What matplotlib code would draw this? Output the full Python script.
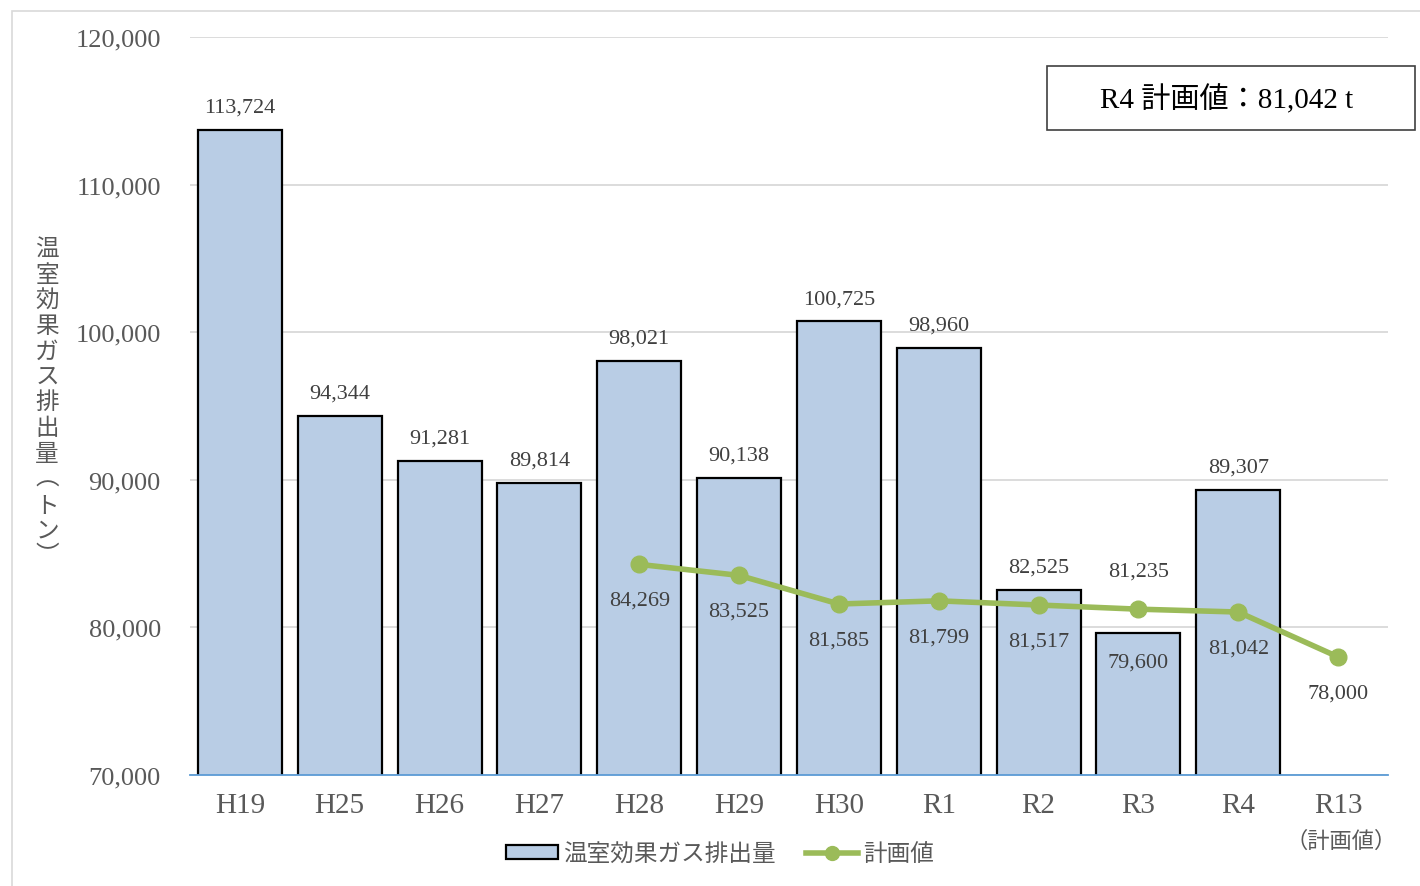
import matplotlib.pyplot as plt
import numpy as np
from matplotlib.patches import Rectangle, Patch
from matplotlib.lines import Line2D
from matplotlib.ticker import FuncFormatter

plt.rcParams['font.family'] = ['Liberation Serif', 'Noto Sans CJK JP', 'DejaVu Sans']

# data
years = ['H19', 'H25', 'H26', 'H27', 'H28', 'H29', 'H30', 'R1', 'R2', 'R3', 'R4', 'R13']
emissions = [113724, 94344, 91281, 89814, 98021, 90138, 100725, 98960, 82525, 79600, 89307, None]
plan_years = ['H28', 'H29', 'H30', 'R1', 'R2', 'R3', 'R4', 'R13']
plan = [84269, 83525, 81585, 81799, 81517, 81235, 81042, 78000]

bar_color = '#B9CDE5'
line_color = '#9BBB59'
txt_gray = '#595959'
lab_gray = '#404040'
cjk = ['Noto Sans CJK JP', 'DejaVu Sans']

fig = plt.figure(figsize=(14.2, 8.87), dpi=100)
ax = fig.add_axes([190/1420, 1-776/887, 1198/1420, 738/887])

x = np.arange(len(years))
bx = [i for i, v in enumerate(emissions) if v is not None]
bv = [v for v in emissions if v is not None]
ax.bar(bx, bv, width=0.84, color=bar_color, edgecolor='black', linewidth=1.6, zorder=2)

px = [years.index(y) for y in plan_years]
ax.plot(px, plan, color=line_color, linewidth=4, marker='o', markersize=12, zorder=3)

# labels (offsets in points, a few moved by hand as in the original)
bar_off = {'R3': 21}
for i, v in zip(bx, bv):
    off = bar_off.get(years[i], -16.5)
    ax.annotate(f'{v:,}', (i, v), xytext=(0, -off), textcoords='offset points',
                ha='center', va='center', fontsize=16, color=lab_gray, zorder=4)
line_off = {'R3': -27.5}
for i, v in zip(px, plan):
    off = line_off.get(years[i], 26)
    ax.annotate(f'{v:,}', (i, v), xytext=(0, -off), textcoords='offset points',
                ha='center', va='center', fontsize=16, color=lab_gray, zorder=4)

ax.set_xlim(-0.5, len(years) - 0.5)
ax.set_ylim(70000, 120000)
ax.set_yticks(np.arange(70000, 120001, 10000))
ax.yaxis.set_major_formatter(FuncFormatter(lambda v, p: f'{int(v):,}'))
ax.set_xticks(x)
ax.set_xticklabels(years)
ax.tick_params(axis='y', length=0, pad=21, labelsize=19, labelcolor=txt_gray)
ax.tick_params(axis='x', length=0, pad=12, labelsize=21, labelcolor=txt_gray)
ax.grid(axis='y', color='#D9D9D9', linewidth=1.3, zorder=0)
ax.set_axisbelow(True)
for s in ['top', 'right', 'left']:
    ax.spines[s].set_visible(False)
ax.spines['bottom'].set_color('#5B9BD5')
ax.spines['bottom'].set_linewidth(1.3)
ax.spines['bottom'].set_zorder(5)

fig.text(1341/1420, 1-841/887, '（計画値）', ha='center', va='center',
         fontsize=16, color=txt_gray, family=cjk)

# vertical y-axis title
ylab = '温室効果ガス排出量︵ト\u30f3︶'
fig.text(47/1420, 1-403/887, '\n'.join(ylab), ha='center', va='center',
         fontsize=17, color=txt_gray, family=cjk, linespacing=1.14)

# annotation box
fig.patches.append(Rectangle((1047/1420, 1-131/887), 368/1420, 64/887,
                             transform=fig.transFigure, fill=False,
                             edgecolor='#404040', linewidth=1.2))
fig.text(1227/1420, 1-100/887, 'R4 計画値：81,042 t', ha='center', va='center',
         fontsize=21, color='black')

# outer chart border
fig.patches.append(Rectangle((12/1420, -0.1), 1.2, 1.1 - 12/887,
                             transform=fig.transFigure, fill=False,
                             edgecolor='#D9D9D9', linewidth=1.2))

handles = [Patch(facecolor=bar_color, edgecolor='black', linewidth=1.6),
           Line2D([], [], color=line_color, linewidth=4, marker='o', markersize=10)]
fig.legend(handles, ['温室効果ガス排出量', '計画値'], loc='center',
           bbox_to_anchor=(720/1420, 1-855/887), ncol=2, frameon=False,
           prop={'family': cjk, 'size': 17}, labelcolor=txt_gray,
           handlelength=2.2, handleheight=0.55, handletextpad=0.2, columnspacing=1.3)

fig.savefig('out.png', dpi=100)
